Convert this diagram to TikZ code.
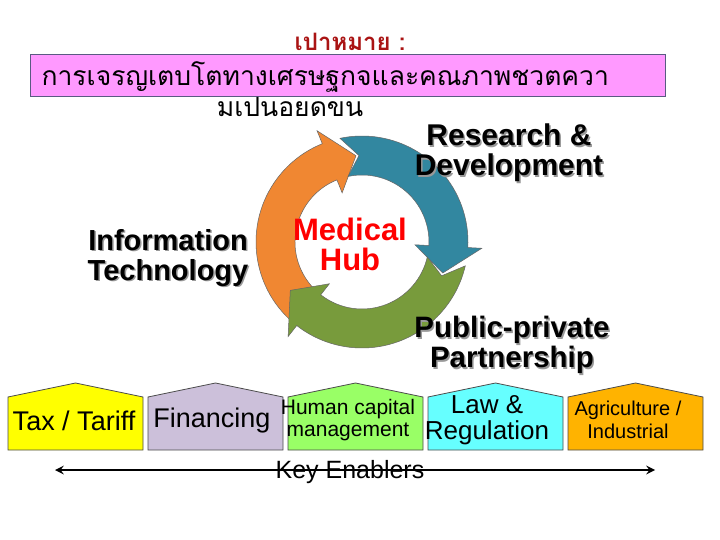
\documentclass[tikz,border=0pt]{standalone}
\usepackage{fontspec}
\setmainfont{Liberation Sans}
\newfontfamily\thaifont[Script=Thai]{Loma}
\definecolor{titlered}{RGB}{170,20,20}
\definecolor{boxedge}{RGB}{90,90,130}
\definecolor{boxpink}{RGB}{255,153,255}
\definecolor{corange}{RGB}{240,135,50}
\definecolor{cblue}{RGB}{50,135,160}
\definecolor{cgreen}{RGB}{120,155,60}
\definecolor{hyellow}{RGB}{255,255,0}
\definecolor{hlav}{RGB}{204,192,218}
\definecolor{hgreen}{RGB}{153,255,102}
\definecolor{hcyan}{RGB}{102,255,255}
\definecolor{horange}{RGB}{255,179,0}
\begin{document}
\begin{tikzpicture}[x=1pt,y=-1pt,
  house/.style={draw=black!70,line width=0.8pt},
  lbl/.style={align=center,font=\fontsize{29}{30}\selectfont\bfseries,inner sep=0pt},
  hl/.style={align=center,inner sep=0pt}]
\useasboundingbox[fill=white] (0,0) rectangle (720,540);
% title
\node[text=titlered,font=\thaifont\fontsize{24}{26}\selectfont\bfseries] (title) at (350,42) {เปาหมาย :};
\node[draw=boxedge,line width=1pt,fill=boxpink,minimum width=635,minimum height=42,inner sep=0pt] (goalbox) at (347.5,76) {};
\node[anchor=west,font=\thaifont\fontsize{26.5}{28}\selectfont] (goal1) at (38,77) {การเจรญเตบโตทางเศรษฐกจและคณภาพชวตควา};
\node[font=\thaifont\fontsize{26.5}{28}\selectfont] (goal2) at (290,107) {มเปนอยดขน};
% cycle
\begin{scope}[shift={(362,242)}]
\def\ri{67}\def\ro{106}\def\rm{86.5}\def\rO{120}\def\rI{53}
\newcommand\cyc[5]{% color, start, end, tip, notch
 \fill[#1,draw=black!60,line width=0.5pt] (#2:\ro) arc[start angle=#2,end angle=#3,radius=\ro] -- (#3:\rO) -- (#4:\rm) -- (#3:\rI) -- (#3:\ri) arc[start angle=#3,end angle=#2,radius=\ri] -- (#5:\rm) -- cycle;}
\cyc{corange}{-230}{-112}{-94}{-220}
\cyc{cblue}{-102}{3}{21}{-92}
\cyc{cgreen}{13}{128}{146}{23}
\end{scope}
\node[lbl,text=red,font=\fontsize{31}{30}\selectfont\bfseries] (hub) at (350,244) {Medical\\Hub};
\foreach \n/\x/\y/\t/\s in {rd/509/153/{Research \&\\Development}/30,it/168/258/{Information\\Technology}/29,pp/512/345/{Public-private\\Partnership}/29.5}{
  \node[lbl,text=black!40,font=\fontsize{\s}{30}\selectfont\bfseries] at (\x+1.5,\y+1.5) {\t};
  \node[lbl,font=\fontsize{\s}{30}\selectfont\bfseries] (\n) at (\x,\y) {\t};}
% houses
\foreach \i/\c in {0/hyellow,1/hlav,2/hgreen,3/hcyan,4/horange}{
  \pgfmathsetmacro\xa{8+140*\i}
  \draw[house,fill=\c] (\xa,450) -- (\xa,397) -- (\xa+67.5,383) -- (\xa+135,397) -- (\xa+135,450) -- cycle;}
\node[hl,font=\fontsize{27}{28}\selectfont] (h1) at (74,421) {Tax / Tariff};
\node[hl,font=\fontsize{27}{28}\selectfont] (h2) at (212,421) {Financing};
\node[hl,font=\fontsize{21}{22}\selectfont] (h3) at (348,420) {Human capital\\management};
\node[hl,font=\fontsize{26}{26}\selectfont] (h4) at (487,420) {Law \&\\Regulation};
\node[hl,font=\fontsize{20}{23}\selectfont] (h5) at (628,420) {Agriculture /\\Industrial};
\coordinate (kl) at (55,470);
\coordinate (kr) at (655,470);
\draw[line width=2.8pt,<->,>=stealth] (kl) -- (kr);
\node[hl,font=\fontsize{25}{26}\selectfont] (ke) at (350,472) {Key Enablers};
\end{tikzpicture}
\end{document}
